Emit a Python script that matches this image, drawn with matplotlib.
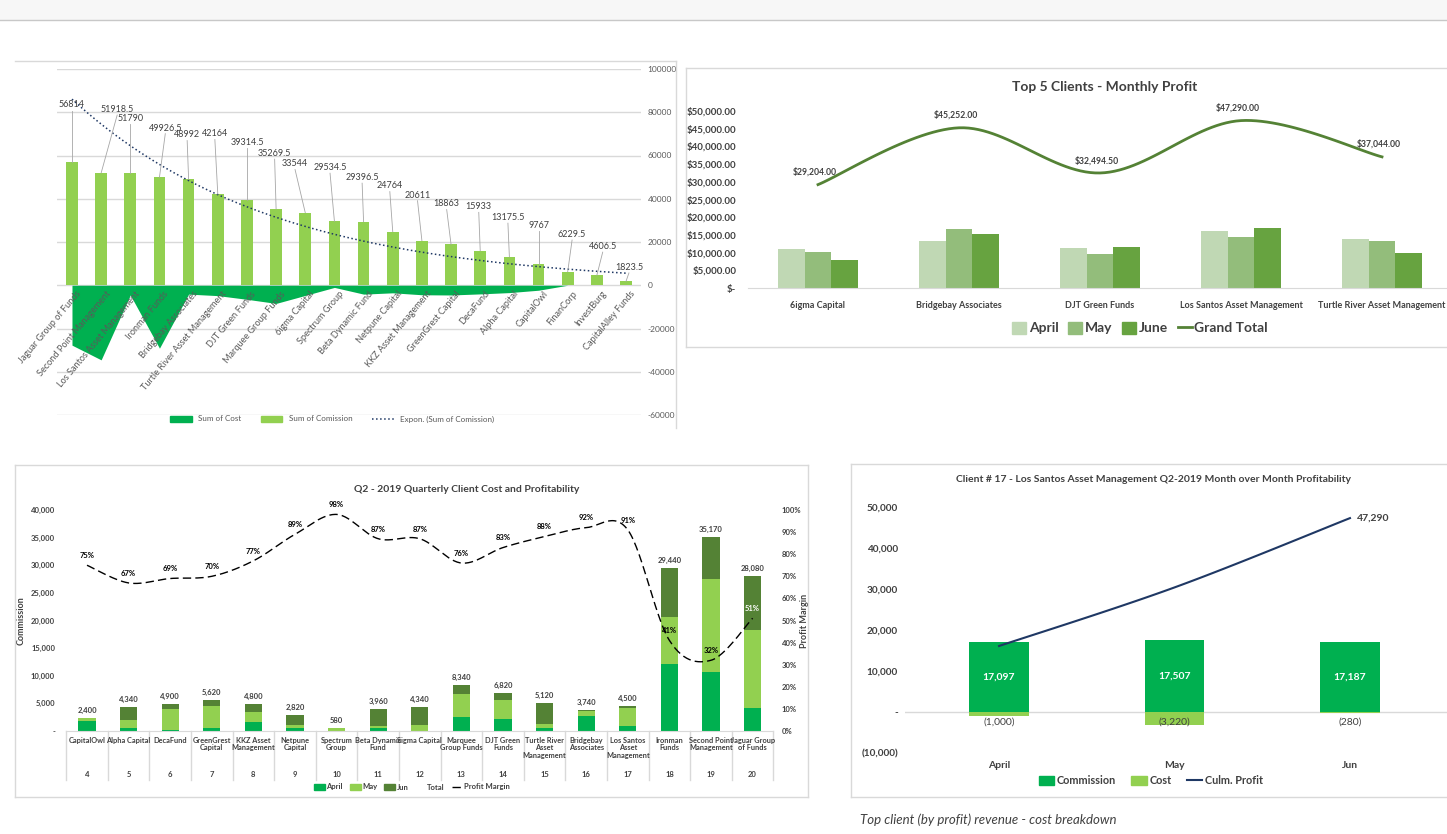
import numpy as np
import matplotlib
matplotlib.use('Agg')
import matplotlib.pyplot as plt
from matplotlib.lines import Line2D
from matplotlib.patches import Patch, Rectangle
from matplotlib import font_manager
import matplotlib.transforms as mtrans

W, H = 1447, 834

names = {f.name for f in font_manager.fontManager.ttflist}
MAIN = 'Liberation Sans Narrow' if 'Liberation Sans Narrow' in names else 'Lato'
plt.rcParams['font.family'] = [MAIN, 'DejaVu Sans']

# ---------------- chart 1: commission vs cost, all clients ----------------
clients = ['Jaguar Group of Funds', 'Second Point Management', 'Los Santos Asset Management',
           'Ironman Funds', 'Bridgebay Associates', 'Turtle River Asset Management',
           'DJT Green Funds', 'Marquee Group Funds', '6igma Capital', 'Spectrum Group',
           'Beta Dynamic Fund', 'Netpune Capital', 'KKZ Asset Management', 'GreenGrest Capital',
           'DecaFund', 'Alpha Capital', 'CapitalOwl', 'FinanCorp', 'InvestBurg', 'CapitalAlley Funds']
sum_commission = [56814, 51918.5, 51790, 49926.5, 48992, 42164, 39314.5, 35269.5, 33544, 29534.5,
                  29396.5, 24764, 20611, 18863, 15933, 13175.5, 9767, 6229.5, 4606.5, 1823.5]
sum_cost = [-27700, -34500, -4500, -29100, -4100, -4800, -6500, -8400, -4700, -1000,
            -4100, -3500, -4400, -4500, -4000, -3400, -2300, 0, 0, 0]
# where the data labels sit (label height, sideways shift in categories)
lbl_y = [83400, 81300, 77000, 72700, 69500, 70000, 66000, 60900, 56100, 54400,
         49800, 45900, 41700, 37600, 36300, 31300, 27600, 23500, 17900, 8300]
lbl_dx = [0, 0.55, 0, 0.2, -0.05, -0.1, 0, -0.05, -0.35, -0.15,
          -0.05, -0.1, -0.15, -0.15, -0.05, -0.05, 0, 0.15, 0.2, 0.1]

# ---------------- chart 2: top 5 clients ----------------
top5 = ['6igma Capital', 'Bridgebay Associates', 'DJT Green Funds',
        'Los Santos Asset Management', 'Turtle River Asset Management']
profit_apr = [10900, 13250, 11200, 16097, 13950]
profit_may = [10300, 16700, 9650, 14287, 13290]
profit_jun = [8004, 15302, 11644.5, 16906, 9804]
grand_total = [29204.00, 45252.00, 32494.50, 47290.00, 37044.00]

# ---------------- chart 3: Q2 quarterly ----------------
q2_clients = ['CapitalOwl', 'Alpha Capital', 'DecaFund', 'GreenGrest\nCapital', 'KKZ Asset\nManagement',
              'Netpune\nCapital', 'Spectrum\nGroup', 'Beta Dynamic\nFund', 'Sigma Capital',
              'Marquee\nGroup Funds', 'DJT Green\nFunds', 'Turtle River\nAsset\nManagement',
              'Bridgebay\nAssociates', 'Los Santos\nAsset\nManagement', 'Ironman\nFunds',
              'Second Point\nManagement', 'Jaguar Group\nof Funds']
client_no = list(range(4, 21))
q2_apr = [1800, 500, 250, 500, 1700, 500, 0, 500, 0, 2600, 2200, 500, 2700, 900, 12200, 10700, 4100]
q2_may = [550, 1540, 3750, 4100, 1800, 650, 580, 400, 1150, 4150, 3400, 800, 850, 3350, 8500, 16800, 14150]
q2_jun = [50, 2300, 900, 1020, 1300, 1670, 0, 3060, 3190, 1590, 1220, 3820, 190, 250, 8740, 7670, 9830]
q2_total = [2400, 4340, 4900, 5620, 4800, 2820, 580, 3960, 4340, 8340, 6820, 5120, 3740, 4500,
            29440, 35170, 28080]
profit_margin = [0.75, 0.67, 0.69, 0.70, 0.77, 0.89, 0.98, 0.87, 0.87, 0.76, 0.83, 0.88, 0.92,
                 0.91, 0.41, 0.32, 0.51]

# ---------------- chart 4: Los Santos month over month ----------------
months = ['April', 'May', 'Jun']
ls_commission = [17097, 17507, 17187]
ls_cost = [-1000, -3220, -280]
culm_profit = [16097, 30384, 47290]

GREEN = '#00b050'
LGREEN = '#92d050'
DGREEN = '#548235'
TXT = '#404040'
FRAME = '#d9d9d9'


def box(x0, y0, x1, y1):
    return [x0 / W, 1 - y1 / H, (x1 - x0) / W, (y1 - y0) / H]


def fline(fig, x0, y0, x1, y1, color=FRAME, lw=1.0):
    fig.add_artist(Line2D([x0 / W, x1 / W], [1 - y0 / H, 1 - y1 / H],
                          transform=fig.transFigure, color=color, lw=lw))


def smooth(xs, ys, n=30):
    # excel-like smoothed line (catmull-rom as bezier)
    xs = np.asarray(xs, float)
    ys = np.asarray(ys, float)
    px = np.r_[xs[0], xs, xs[-1]]
    py = np.r_[ys[0], ys, ys[-1]]
    t = np.linspace(0, 1, n)[:, None]
    segs = []
    for j in range(len(xs) - 1):
        p0 = np.array([px[j], py[j]])
        p1 = np.array([px[j + 1], py[j + 1]])
        p2 = np.array([px[j + 2], py[j + 2]])
        p3 = np.array([px[j + 3], py[j + 3]])
        c1 = p1 + (p2 - p0) / 6
        c2 = p2 - (p3 - p1) / 6
        b = (1 - t) ** 3 * p1 + 3 * (1 - t) ** 2 * t * c1 + 3 * (1 - t) * t ** 2 * c2 + t ** 3 * p2
        segs.append(b if j == 0 else b[1:])
    pts = np.vstack(segs)
    return pts[:, 0], pts[:, 1]


def clean(ax):
    for s in ax.spines.values():
        s.set_visible(False)


fig = plt.figure(figsize=(W / 100, H / 100), dpi=100)

# page chrome
fig.add_artist(Rectangle((0, 1 - 20 / H), 1, 20 / H, transform=fig.transFigure,
                         facecolor='#f7f7f7', edgecolor='none'))
fline(fig, 0, 20, W, 20, color='#c8c8c8')

# ================= chart 1 =================
fline(fig, 15, 61, 676, 61)
fline(fig, 676, 61, 676, 428)
ax1 = fig.add_axes(box(57.4, 69, 640.6, 415))
x1 = np.arange(len(clients))
ax1.set_xlim(-0.5, len(clients) - 0.5)
ax1.set_ylim(-60000, 100000)
ax1.set_yticks(np.arange(-60000, 100001, 20000))
ax1.set_yticklabels([str(v) for v in np.arange(-60000, 100001, 20000)])
ax1.yaxis.tick_right()
ax1.tick_params(axis='y', length=0, labelsize=6, labelcolor='#595959', pad=5)
ax1.set_xticks([])
ax1.grid(axis='y', color=FRAME, lw=1)
ax1.set_axisbelow(True)
clean(ax1)
ax1.fill_between(x1, sum_cost, 0, color=GREEN, lw=0, zorder=2)
ax1.bar(x1, sum_commission, width=0.4, color=LGREEN, zorder=3)
coef = np.polyfit(x1 + 1, np.log(sum_commission), 1)
xt = np.linspace(0, len(clients) - 1, 200)
ax1.plot(xt, np.exp(coef[1] + coef[0] * (xt + 1)), ls=':', color='#1f3864', lw=1.1, zorder=4)
for i, v in enumerate(sum_commission):
    lx = i + lbl_dx[i]
    ax1.plot([i, lx], [v, lbl_y[i] - 2600], color='#a6a6a6', lw=0.6, zorder=4)
    ax1.text(lx, lbl_y[i], f"{v:g}", ha='center', va='center', fontsize=6.5, color=TXT, zorder=5)
    ax1.annotate(clients[i], xy=(i, 0), xytext=(3, -3), textcoords='offset points',
                 rotation=50, ha='right', va='top', rotation_mode='anchor',
                 fontsize=6.6, color='#595959', zorder=6)
h1 = [Patch(color=GREEN), Patch(color=LGREEN),
      Line2D([], [], ls=':', color='#1f3864', lw=1.1)]
fig.legend(h1, ['Sum of Cost', 'Sum of Comission', 'Expon. (Sum of Comission)'],
           loc='center', bbox_to_anchor=(332 / W, 1 - 419 / H), ncol=3, frameon=False,
           fontsize=5.8, handlelength=2.7, handleheight=0.8, columnspacing=2.4,
           labelcolor='#595959')

# ================= chart 2 =================
fline(fig, 686, 68, W, 68)
fline(fig, 686, 68, 686, 347)
fline(fig, 686, 347, W, 347)
ax2 = fig.add_axes(box(747.5, 111, 1452.5, 288))
x2 = np.arange(len(top5))
ax2.set_xlim(-0.5, 4.5)
ax2.set_ylim(0, 50000)
bw = 0.19
ax2.bar(x2 - bw, profit_apr, width=bw, color='#c0d8b4')
ax2.bar(x2, profit_may, width=bw, color='#93bd7b')
ax2.bar(x2 + bw, profit_jun, width=bw, color='#67a340')
sx, sy = smooth(x2, grand_total)
ax2.plot(sx, sy, color=DGREEN, lw=2)
for i, v in enumerate(grand_total):
    ax2.annotate(f"${v:,.2f}", xy=(i, v), xytext=(-2, 9), textcoords='offset points',
                 ha='center', va='center', fontsize=6.2, fontweight='bold', color=TXT)
ax2.set_yticks(np.arange(0, 50001, 5000))
ax2.set_yticklabels(['$-'] + [f"${v:,.2f}" for v in np.arange(5000, 50001, 5000)],
                    fontweight='bold')
ax2.set_xticks(x2)
ax2.set_xticklabels(top5, fontweight='bold')
ax2.tick_params(axis='y', length=0, labelsize=7, labelcolor=TXT, pad=8)
ax2.tick_params(axis='x', length=0, labelsize=6.5, labelcolor=TXT, pad=9)
clean(ax2)
ax2.spines['bottom'].set_visible(True)
ax2.spines['bottom'].set_color(FRAME)
fig.text(1105 / W, 1 - 87 / H, 'Top 5 Clients - Monthly Profit', ha='center', va='center',
         fontsize=10, fontweight='bold', color=TXT)
h2 = [Patch(color='#c0d8b4'), Patch(color='#93bd7b'), Patch(color='#67a340'),
      Line2D([], [], color=DGREEN, lw=2)]
fig.legend(h2, ['April', 'May', 'June', 'Grand Total'], loc='center',
           bbox_to_anchor=(1140 / W, 1 - 328 / H), ncol=4, frameon=False,
           handlelength=1.0, handleheight=1.0, handletextpad=0.2, columnspacing=0.7,
           prop={'weight': 'bold', 'size': 10}, labelcolor=TXT)

# ================= chart 3 =================
fline(fig, 15, 465, 808, 465)
fline(fig, 15, 465, 15, 797)
fline(fig, 15, 797, 808, 797)
fline(fig, 808, 465, 808, 797)
ax3 = fig.add_axes(box(66.2, 510, 773.4, 731))
x3 = np.arange(len(q2_clients))
ax3.set_xlim(-0.5, len(q2_clients) - 0.5)
ax3.set_ylim(0, 40000)
apr = np.array(q2_apr)
may = np.array(q2_may)
jun = np.array(q2_jun)
ax3.bar(x3, apr, width=0.41, color=GREEN)
ax3.bar(x3, may, width=0.41, bottom=apr, color=LGREEN)
ax3.bar(x3, jun, width=0.41, bottom=apr + may, color=DGREEN)
for i, v in enumerate(q2_total):
    ax3.annotate(f"{v:,}", xy=(i, v), xytext=(0, 3), textcoords='offset points',
                 ha='center', va='bottom', fontsize=5.5, fontweight='bold', color=TXT)
ax3.set_yticks(np.arange(0, 40001, 5000))
ax3.set_yticklabels(['-'] + [f"{v:,}" for v in np.arange(5000, 40001, 5000)], fontweight='bold')
ax3.tick_params(axis='y', length=0, labelsize=5.5, labelcolor=TXT, pad=8)
ax3.set_xticks([])
clean(ax3)
ax3.spines['bottom'].set_visible(True)
ax3.spines['bottom'].set_color(FRAME)
ax3.set_ylabel('Commission', fontsize=6.5, fontweight='bold', color=TXT, labelpad=4)
sep = mtrans.blended_transform_factory(ax3.transData, fig.transFigure)
for k in range(len(q2_clients) + 1):
    ax3.plot([k - 0.5, k - 0.5], [1 - 731 / H, 1 - 780 / H], transform=sep,
             color=FRAME, lw=1, clip_on=False)
for i, name in enumerate(q2_clients):
    ax3.annotate(name, xy=(i, 0), xytext=(0, -4), textcoords='offset points', ha='center',
                 va='top', fontsize=5.3, fontweight='bold', color=TXT, linespacing=1.15)
    ax3.annotate(str(client_no[i]), xy=(i, 0), xytext=(0, -31), textcoords='offset points',
                 ha='center', va='center', fontsize=5.5, fontweight='bold', color=TXT)
ax3b = ax3.twinx()
ax3b.set_ylim(0, 1)
ax3b.set_yticks(np.arange(0, 1.01, 0.1))
ax3b.set_yticklabels([f"{v:.0%}" for v in np.arange(0, 1.01, 0.1)], fontweight='bold')
ax3b.tick_params(axis='y', length=0, labelsize=5.5, labelcolor=TXT, pad=6)
clean(ax3b)
ax3b.set_ylabel('Profit Margin', fontsize=6.5, fontweight='bold', color=TXT, labelpad=-1)
sx, sy = smooth(x3, profit_margin)
ax3b.plot(sx, sy, color='black', lw=1, dashes=(6, 3))
for i, v in enumerate(profit_margin):
    # a label lying on the dark June segment is drawn in white
    lv = v * 40000
    on_dark = apr[i] + may[i] < lv < q2_total[i]
    ax3b.annotate(f"{v:.0%}", xy=(i, v), xytext=(0, 7), textcoords='offset points',
                  ha='center', va='center', fontsize=5.5, fontweight='bold',
                  color='white' if on_dark else 'black')
fig.text(467 / W, 1 - 489 / H, 'Q2 - 2019 Quarterly Client Cost and Profitability',
         ha='center', va='center', fontsize=7.5, fontweight='bold', color=TXT)
h3 = [Patch(color=GREEN), Patch(color=LGREEN), Patch(color=DGREEN),
      Patch(color='none'), Line2D([], [], color='black', lw=1, dashes=(6, 3))]
fig.legend(h3, ['April', 'May', 'Jun', 'Total', 'Profit Margin'], loc='center',
           bbox_to_anchor=(412 / W, 1 - 787 / H), ncol=5, frameon=False,
           handlelength=1.4, handleheight=0.8, handletextpad=0.2, columnspacing=0.9,
           prop={'weight': 'bold', 'size': 5.5}, labelcolor=TXT)

# ================= chart 4 =================
fline(fig, 851, 464, W, 464)
fline(fig, 851, 464, 851, 797)
fline(fig, 851, 797, W, 797)
ax4 = fig.add_axes(box(905, 507, 1447, 753))
x4 = np.arange(len(months))
ax4.set_xlim(-0.536, 2.553)
ax4.set_ylim(-10000, 50000)
ax4.bar(x4, ls_commission, width=0.34, color=GREEN, zorder=2)
ax4.bar(x4, ls_cost, width=0.34, color=LGREEN, zorder=2)
ax4.axhline(0, color=FRAME, lw=1, zorder=1)
sx, sy = smooth(x4, culm_profit)
ax4.plot(sx, sy, color='#1f3864', lw=1.5, zorder=3)
for i, v in enumerate(ls_commission):
    ax4.text(i, v / 2, f"{v:,}", ha='center', va='center', fontsize=7.5,
             fontweight='bold', color='white', zorder=4)
for i, v in enumerate(ls_cost):
    ax4.annotate(f"({abs(v):,})", xy=(i, 0), xytext=(0, -7), textcoords='offset points',
                 ha='center', va='center', fontsize=7.5, color=TXT, zorder=4)
ax4.annotate(f"{culm_profit[-1]:,}", xy=(x4[-1], culm_profit[-1]), xytext=(5, 0),
             textcoords='offset points', ha='left', va='center', fontsize=7.5,
             fontweight='bold', color=TXT)
ax4.set_yticks(np.arange(-10000, 50001, 10000))
ax4.set_yticklabels([f"({abs(v):,})" if v < 0 else ('-' if v == 0 else f"{v:,}")
                     for v in np.arange(-10000, 50001, 10000)], fontweight='bold')
ax4.set_xticks(x4)
ax4.set_xticklabels(months, fontweight='bold')
ax4.tick_params(axis='y', length=0, labelsize=7.2, labelcolor=TXT, pad=5)
ax4.tick_params(axis='x', length=0, labelsize=7.5, labelcolor=TXT, pad=6)
clean(ax4)
fig.text(1154 / W, 1 - 479 / H,
         'Client # 17 - Los Santos Asset Management Q2-2019 Month over Month Profitability',
         ha='center', va='center', fontsize=7.5, fontweight='bold', color=TXT)
h4 = [Patch(color=GREEN), Patch(color=LGREEN), Line2D([], [], color='#1f3864', lw=1.5)]
fig.legend(h4, ['Commission', 'Cost', 'Culm. Profit'], loc='center',
           bbox_to_anchor=(1151 / W, 1 - 781 / H), ncol=3, frameon=False,
           handlelength=1.4, handleheight=0.9, handletextpad=0.3, columnspacing=1.4,
           prop={'weight': 'bold', 'size': 7.8}, labelcolor=TXT)

fig.text(860 / W, 1 - 820 / H, 'Top client (by profit) revenue - cost breakdown',
         ha='left', va='center', fontsize=9.5, style='italic', color='#404040',
         family=['Lato', 'DejaVu Sans'])

fig.savefig('out.png', dpi=100)
